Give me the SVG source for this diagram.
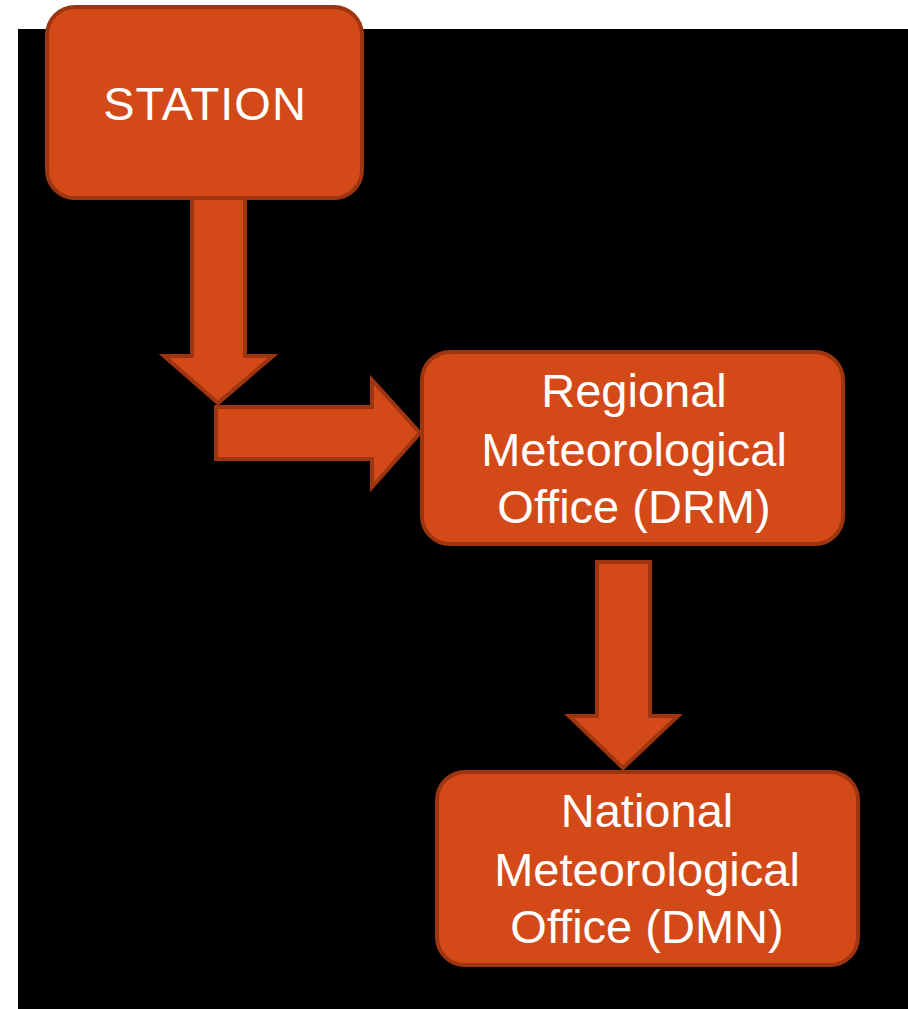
<svg xmlns="http://www.w3.org/2000/svg" width="908" height="1009" viewBox="0 0 908 1009">
<style>
.box{fill:#D34A18;stroke:#9E3410;stroke-width:4}
.arr{fill:#D34A18;stroke:#9E3410;stroke-width:4;stroke-linejoin:miter}
.lbl{fill:#FFFFFF;font-family:"Liberation Sans",Arial,sans-serif;font-size:47px;text-anchor:middle}
</style>
<rect x="0" y="0" width="908" height="1009" fill="#FFFFFF"/>
<rect x="18" y="29" width="890" height="980" fill="#000000"/>
<g id="connectors">
<polygon class="arr" points="192,196 245,196 245,356 273,356 218,403 164,356 192,356"/>
<polygon class="arr" points="216,407 372,407 372,380 420,433 372,487 372,459 216,459"/>
<polygon class="arr" points="597,562 650,562 650,716 678,716 623,768 569,716 597,716"/>
</g>
<g id="station">
<rect class="box" x="47" y="7" width="315" height="191" rx="28"/>
<text class="lbl" x="205" y="120" letter-spacing="1">STATION</text>
</g>
<g id="drm">
<rect class="box" x="422" y="352" width="421" height="192" rx="28"/>
<text class="lbl" x="634" y="407">Regional</text>
<text class="lbl" x="634" y="466">Meteorological</text>
<text class="lbl" x="634" y="523">Office (DRM)</text>
</g>
<g id="dmn">
<rect class="box" x="437" y="772" width="421" height="193" rx="28"/>
<text class="lbl" x="647" y="827">National</text>
<text class="lbl" x="647" y="886">Meteorological</text>
<text class="lbl" x="647" y="943">Office (DMN)</text>
</g>
</svg>
